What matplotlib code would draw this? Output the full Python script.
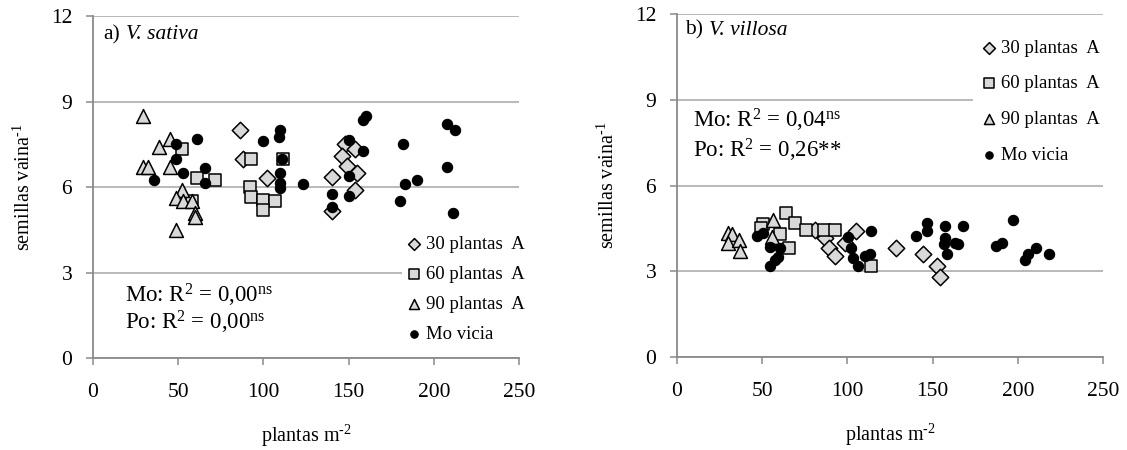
import numpy as np
import matplotlib
matplotlib.use("Agg")
import matplotlib.pyplot as plt

plt.rcParams['font.family'] = ['Liberation Serif', 'DejaVu Serif']
plt.rcParams['mathtext.fontset'] = 'custom'
plt.rcParams['mathtext.rm'] = 'Liberation Serif'
plt.rcParams['mathtext.it'] = 'Liberation Serif:italic'

# panel a) V. sativa
dia_a_x = [86, 88, 102, 148, 154, 146, 149, 155, 140, 154, 140]
dia_a_y = [8.0, 7.0, 6.3, 7.5, 7.35, 7.1, 6.75, 6.5, 6.35, 5.9, 5.15]
sq_a_x = [52, 61, 71.5, 93, 111.5, 92, 93, 100, 107, 100, 58]
sq_a_y = [7.35, 6.3, 6.25, 7.0, 7.0, 6.0, 5.65, 5.55, 5.5, 5.2, 5.5]
tri_a_x = [29.5, 45, 39, 29.5, 32.5, 45, 52.5, 49, 53, 58, 60, 60, 49]
tri_a_y = [8.5, 7.7, 7.4, 6.7, 6.7, 6.7, 5.9, 5.6, 5.5, 5.5, 5.1, 4.95, 4.5]
dot_a_x = [61, 49, 49, 53, 36, 66, 66, 110, 109, 100, 110, 110, 110, 123, 111,
           140, 140, 160, 158.5, 150, 158.5, 150, 150, 182, 183, 190, 180,
           208, 212.5, 208, 211]
dot_a_y = [7.7, 7.5, 7.0, 6.5, 6.25, 6.65, 6.15, 8.0, 7.75, 7.6, 6.5, 6.15, 5.95,
           6.1, 7.0, 5.75, 5.3, 8.5, 8.35, 7.65, 7.25, 6.4, 5.7, 7.5, 6.1, 6.25,
           5.5, 8.2, 8.0, 6.7, 5.1]

# panel b) V. villosa
dia_b_x = [81, 87, 89, 93, 98.5, 105, 128.5, 144.5, 152.5, 154.5]
dia_b_y = [4.45, 4.15, 3.8, 3.55, 4.0, 4.4, 3.8, 3.6, 3.2, 2.8]
sq_b_x = [50.5, 49.5, 60.5, 64, 69.5, 76, 86, 92.5, 66, 114]
sq_b_y = [4.65, 4.5, 4.3, 5.05, 4.7, 4.45, 4.45, 4.45, 3.8, 3.2]
tri_b_x = [30, 32.5, 30, 36.5, 37, 56.5, 56]
tri_b_y = [4.35, 4.3, 4.0, 4.1, 3.7, 4.8, 4.2]
dot_b_x = [47, 50.5, 54.5, 54.5, 57.5, 59.5, 60.5, 100.5, 102, 103.5, 106.5, 110.5,
           113, 114, 140.5, 147, 146.5, 157.5, 157.5, 156.5, 158.5, 163, 165, 168,
           187, 190.5, 197, 204, 206, 210.5, 218.5]
dot_b_y = [4.25, 4.35, 3.85, 3.2, 3.4, 3.5, 3.8, 4.2, 3.8, 3.45, 3.2, 3.55, 3.6,
           4.4, 4.25, 4.7, 4.4, 4.6, 4.15, 3.95, 3.6, 4.0, 3.95, 4.6, 3.9, 4.0,
           4.8, 3.4, 3.6, 3.8, 3.6]

labels = ["30 plantas  A", "60 plantas  A", "90 plantas  A", "Mo vicia"]
xticks = [0, 50, 100, 150, 200, 250]
yticks = [0, 3, 6, 9, 12]

fill = '#d9d9d9'
axcol = '#8a8a8a'

fig = plt.figure(figsize=(11.27, 4.5), dpi=100)
ax1 = fig.add_axes([0.0825, 0.2044, 0.378, 0.76])
ax2 = fig.add_axes([0.6007, 0.2067, 0.378, 0.762])


def draw(ax, dx, dy, sx, sy, tx, ty, ox, oy):
    ax.scatter(dx, dy, marker='D', s=70, facecolor=fill, edgecolor='black', linewidth=1.1, zorder=3, label=labels[0])
    ax.scatter(sx, sy, marker='s', s=85, facecolor=fill, edgecolor='black', linewidth=1.1, zorder=3, label=labels[1])
    ax.scatter(tx, ty, marker='^', s=100, facecolor=fill, edgecolor='black', linewidth=1.1, zorder=3, label=labels[2])
    ax.scatter(ox, oy, marker='o', s=55, facecolor='black', edgecolor='black', linewidth=0.8, zorder=3, label=labels[3])
    ax.set_xlim(0, 250)
    ax.set_ylim(0, 12)
    ax.set_xticks(xticks)
    ax.set_yticks(yticks)
    ax.tick_params(labelsize=15.5, color=axcol, width=1.1, length=5)
    ax.tick_params(axis='x', pad=13)
    ax.tick_params(axis='y', pad=10)
    ax.grid(axis='y', color='#a6a6a6', linewidth=1.1)
    ax.set_axisbelow(True)
    for s in ['top', 'right']:
        ax.spines[s].set_visible(False)
    for s in ['left', 'bottom']:
        ax.spines[s].set_color(axcol)
        ax.spines[s].set_linewidth(1.3)
    ax.set_xlabel("plantas m$^{\u20102}$", fontsize=14.5)
    ax.set_ylabel("semillas vaina$^{\u20101}$", fontsize=14.5)
    ax.xaxis.set_label_coords(0.5, -0.19)
    ax.yaxis.set_label_coords(-0.137, 0.5)


draw(ax1, dia_a_x, dia_a_y, sq_a_x, sq_a_y, tri_a_x, tri_a_y, dot_a_x, dot_a_y)
draw(ax2, dia_b_x, dia_b_y, sq_b_x, sq_b_y, tri_b_x, tri_b_y, dot_b_x, dot_b_y)

# panel titles: upright letter, italic species
ax1.text(0.024, 0.945, "a)", transform=ax1.transAxes, fontsize=15.5, va='center')
ax1.text(0.077, 0.945, "V. sativa", transform=ax1.transAxes, fontsize=15.5, va='center', style='italic')
ax2.text(0.019, 0.953, "b)", transform=ax2.transAxes, fontsize=15.5, va='center')
ax2.text(0.075, 0.953, "V. villosa", transform=ax2.transAxes, fontsize=15.5, va='center', style='italic')

ax1.text(0.075, 0.184, r"Mo: R$^2$ = 0,00$^{\rm ns}$", transform=ax1.transAxes, fontsize=16.5, va='center')
ax1.text(0.075, 0.105, r"Po: R$^2$ = 0,00$^{\rm ns}$", transform=ax1.transAxes, fontsize=16.5, va='center')
ax2.text(0.038, 0.69, r"Mo: R$^2$ = 0,04$^{\rm ns}$", transform=ax2.transAxes, fontsize=16.5, va='center')
ax2.text(0.038, 0.603, r"Po: R$^2$ = 0,26**", transform=ax2.transAxes, fontsize=16.5, va='center')

leg1 = ax1.legend(loc='upper left', bbox_to_anchor=(0.725, 0.375), fontsize=13.5, frameon=True,
                  facecolor='white', edgecolor='none', framealpha=1, fancybox=False,
                  handlelength=0.7, handletextpad=0.3, labelspacing=0.69, markerscale=0.72,
                  borderpad=0.3, borderaxespad=0)
leg2 = ax2.legend(loc='upper left', bbox_to_anchor=(0.695, 0.953), fontsize=13.5, frameon=True,
                  facecolor='white', edgecolor='none', framealpha=1, fancybox=False,
                  handlelength=0.7, handletextpad=0.3, labelspacing=0.99, markerscale=0.72,
                  borderpad=0.5, borderaxespad=0)
for leg in (leg1, leg2):
    leg.set_zorder(5)

fig.savefig("out.png", dpi=100)
